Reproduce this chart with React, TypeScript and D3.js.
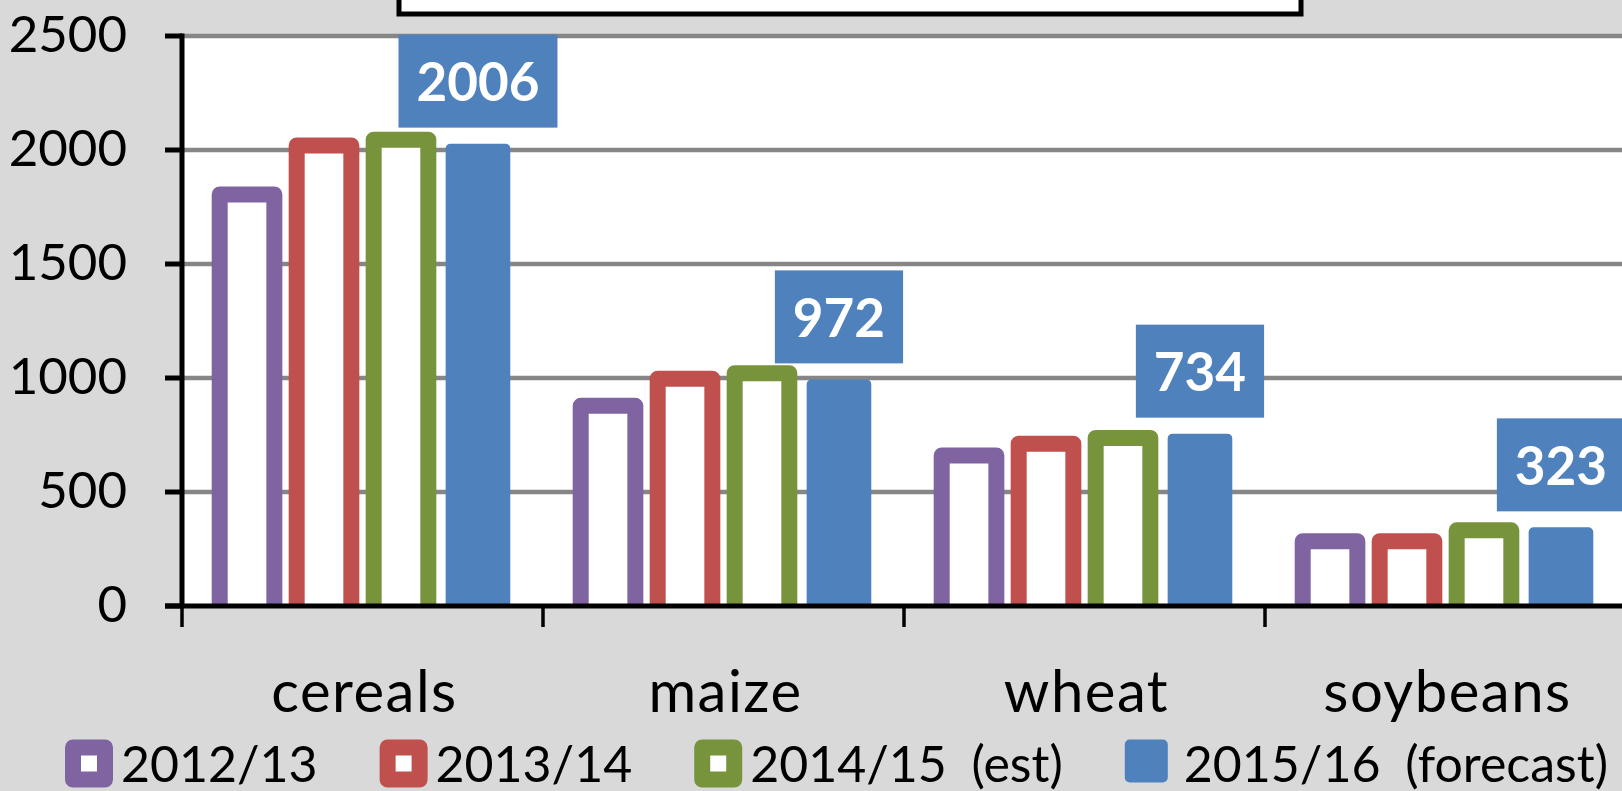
import React, { useEffect, useRef } from 'react';
import * as d3 from 'd3';

const categories = ['cereals', 'maize', 'wheat', 'soybeans'];
const seriesNames = ['2012/13', '2013/14', '2014/15 (est)', '2015/16 (forecast)'];
const v2012 = [1805, 878, 660, 284];
const v2013 = [2020, 997, 712, 284];
const v2014 = [2045, 1021, 737, 332];
const v2015 = [2006, 972, 734, 323];
const yTicks = [0, 500, 1000, 1500, 2000, 2500];

const colors = ['#8064a2', '#c0504d', '#77933c', '#4f81bd'];
const outlined = [true, true, true, false];
const FONT = 'Lato, "Open Sans", sans-serif';

const W = 1622, H = 791;

const App: React.FC = () => {
  const svgRef = useRef<SVGSVGElement | null>(null);

  useEffect(() => {
    if (!svgRef.current) return;
    const values = [v2012, v2013, v2014, v2015];
    const left = 182, top = 36, bottom = 606, right = 1626;

    const svg = d3.select(svgRef.current);
    svg.selectAll('*').remove();

    const x0 = d3.scaleBand<string>().domain(categories).range([left, right])
      .paddingInner(0.147).paddingOuter(0.0735);
    const x1 = d3.scaleBand<string>().domain(seriesNames).range([0, x0.bandwidth()])
      .paddingInner(0.29).paddingOuter(0.145);
    const y = d3.scaleLinear().domain([0, 2500]).range([bottom, top]);

    // background
    svg.append('rect').attr('width', W).attr('height', H).attr('fill', '#d9d9d9');
    svg.append('rect').attr('x', left).attr('y', top).attr('width', W - left).attr('height', bottom - top).attr('fill', '#fff');

    // title box (cut off at top)
    svg.append('rect').attr('x', 399).attr('y', -20).attr('width', 902).attr('height', 34)
      .attr('fill', '#fff').attr('stroke', '#000').attr('stroke-width', 5);

    // gridlines
    svg.append('g').selectAll('line').data(yTicks.filter(t => t > 0)).enter().append('line')
      .attr('x1', left).attr('x2', W).attr('y1', d => y(d)).attr('y2', d => y(d))
      .attr('stroke', '#868686').attr('stroke-width', 4.5);

    // bars, clipped to plot area
    svg.append('defs').append('clipPath').attr('id', 'plotclip')
      .append('rect').attr('x', left).attr('y', 0).attr('width', W - left).attr('height', bottom + 1);

    const barsG = svg.append('g').attr('clip-path', 'url(#plotclip)');
    categories.forEach((cat, ci) => {
      const g = barsG.append('g').attr('transform', `translate(${x0(cat)},0)`);
      seriesNames.forEach((s, si) => {
        const v = values[si][ci];
        const bx = x1(s)!;
        const bw = x1.bandwidth();
        g.append('rect')
          .attr('x', bx).attr('y', y(v)).attr('width', bw).attr('height', bottom - y(v) + 20)
          .attr('fill', outlined[si] ? '#fff' : colors[si])
          .attr('stroke', colors[si])
          .attr('stroke-width', outlined[si] ? 16 : 10)
          .attr('stroke-linejoin', 'round');
      });
    });

    // data labels for the forecast series
    const labG = svg.append('g');
    categories.forEach((cat, ci) => {
      const v = v2015[ci];
      const cx = x0(cat)! + x1(seriesNames[3])! + x1.bandwidth() / 2;
      const boxTop = y(v) - 114;
      const rect = labG.append('rect').attr('fill', '#4f81bd');
      const t = labG.append('text')
        .attr('x', cx).attr('y', boxTop + 66.5)
        .attr('text-anchor', 'middle')
        .attr('font-family', FONT).attr('font-weight', 'bold').attr('font-size', 53)
        .attr('fill', '#fff')
        .text(String(v));
      const tw = (t.node() as SVGTextElement).getComputedTextLength();
      const bw = tw + 36;
      rect.attr('x', cx - bw / 2).attr('y', boxTop).attr('width', bw).attr('height', 93);
    });

    // y axis
    const yAxis = svg.append('g');
    yAxis.append('line').attr('x1', left).attr('x2', left).attr('y1', top - 2.5).attr('y2', bottom)
      .attr('stroke', '#000').attr('stroke-width', 5);
    yAxis.selectAll('line.tick').data(yTicks).enter().append('line')
      .attr('class', 'tick')
      .attr('x1', 165).attr('x2', left).attr('y1', d => y(d)).attr('y2', d => y(d))
      .attr('stroke', '#000').attr('stroke-width', 5);
    yAxis.selectAll('text').data(yTicks).enter().append('text')
      .attr('x', 127).attr('y', d => y(d) + 16)
      .attr('text-anchor', 'end')
      .attr('font-family', FONT).attr('font-size', 51).attr('fill', '#000')
      .text(d => String(d));

    // x axis
    const xAxis = svg.append('g');
    xAxis.append('line').attr('x1', 165).attr('x2', W).attr('y1', bottom).attr('y2', bottom)
      .attr('stroke', '#000').attr('stroke-width', 5);
    xAxis.selectAll('line.tick').data(categories).enter().append('line')
      .attr('class', 'tick')
      .attr('x1', d => x0(d)! - (x0.step() - x0.bandwidth()) / 2)
      .attr('x2', d => x0(d)! - (x0.step() - x0.bandwidth()) / 2)
      .attr('y1', bottom).attr('y2', 627)
      .attr('stroke', '#000').attr('stroke-width', 3.5);
    xAxis.selectAll('text').data(categories).enter().append('text')
      .attr('x', d => x0(d)! + x0.bandwidth() / 2 + 2)
      .attr('y', 712)
      .attr('text-anchor', 'middle')
      .attr('font-family', FONT).attr('font-size', 58).attr('fill', '#000')
      .attr('letter-spacing', 1.5)
      .text(d => d);

    // legend
    const leg = svg.append('g');
    let lx = 65;
    seriesNames.forEach((s, si) => {
      if (outlined[si]) {
        leg.append('rect').attr('x', lx + 8).attr('y', 747.5).attr('width', 32).attr('height', 32)
          .attr('fill', '#fff').attr('stroke', colors[si]).attr('stroke-width', 16)
          .attr('stroke-linejoin', 'round');
      } else {
        leg.append('rect').attr('x', lx).attr('y', 739.5).attr('width', 43).attr('height', 43)
          .attr('rx', 5).attr('fill', colors[si]);
      }
      const tx = lx + (outlined[si] ? 56 : 59);
      const t = leg.append('text')
        .attr('x', tx).attr('y', 782)
        .attr('font-family', FONT).attr('font-size', 50).attr('fill', '#000')
        .attr('word-spacing', 12)
        .text(s);
      const tw = (t.node() as SVGTextElement).getComputedTextLength();
      lx = tx + tw + 62;
    });
  }, []);

  return (
    <svg
      ref={svgRef}
      width={W}
      height={H}
      style={{ position: 'absolute', left: 0, top: 0, display: 'block' }}
    />
  );
};

export default App;
